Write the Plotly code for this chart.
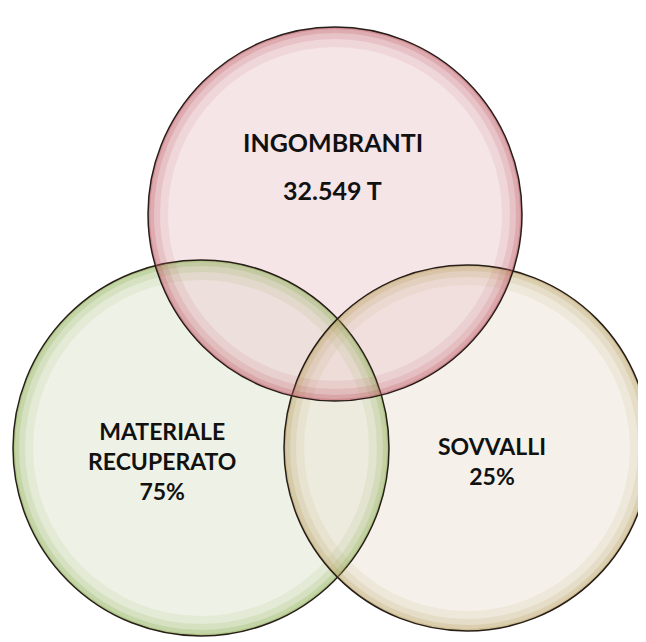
import plotly.graph_objects as go

# chart content
set_names = ["INGOMBRANTI", "MATERIALE<br>RECUPERATO", "SOVVALLI"]
set_values = ["32.549 T", "75%", "25%"]

# circle geometry in pixel units (x right, y down)
centers_x = [335, 201, 467]
centers_y = [214, 448, 448]
radii = [187, 188, 183]
fills = ["rgb(236,208,212)", "rgb(224,230,208)", "rgb(236,230,216)"]
rims = ["rgb(190,90,100)", "rgb(140,175,80)", "rgb(185,160,95)"]

W, H = 646, 642
OFF = 8  # page body margin, so data units match page pixels

fig = go.Figure()
# invisible trace so the axes exist
fig.add_trace(go.Scatter(x=[0, W], y=[0, H], mode="markers",
                         marker=dict(opacity=0), hoverinfo="skip", showlegend=False))

shapes = []
draw_order = [1, 2, 0]
for i in draw_order:
    cx, cy, r = centers_x[i], centers_y[i], radii[i]
    shapes.append(dict(type="circle", xref="x", yref="y",
                       x0=cx - r, x1=cx + r, y0=cy - r, y1=cy + r,
                       fillcolor=fills[i], opacity=0.55, line=dict(width=0)))
for i in draw_order:
    cx, cy, r = centers_x[i], centers_y[i], radii[i]
    # soft rim: stacked rings getting darker towards the edge
    for w, op in [(20, 0.10), (12, 0.15), (6, 0.22), (2, 0.35)]:
        rr = r - w / 2
        shapes.append(dict(type="circle", xref="x", yref="y",
                           x0=cx - rr, x1=cx + rr, y0=cy - rr, y1=cy + rr,
                           opacity=op, line=dict(color=rims[i], width=w)))
    shapes.append(dict(type="circle", xref="x", yref="y",
                       x0=cx - r, x1=cx + r, y0=cy - r, y1=cy + r,
                       line=dict(color="rgb(40,30,25)", width=1.5)))

annotations = []
label_font = dict(family="Lato", size=23, color="#111111")
annotations.append(dict(x=333, y=142, text="<b>" + set_names[0] + "</b>",
                        font=dict(family="Lato", size=25, color="#111111")))
annotations.append(dict(x=332, y=190, text="<b>" + set_values[0] + "</b>",
                        font=dict(family="Lato", size=25, color="#111111")))
annotations.append(dict(x=162, y=461,
                        text="<b>" + set_names[1] + "<br>" + set_values[1] + "</b>",
                        font=label_font))
annotations.append(dict(x=492, y=461,
                        text="<b>" + set_names[2] + "<br>" + set_values[2] + "</b>",
                        font=label_font))
for a in annotations:
    a.update(xref="x", yref="y", showarrow=False, align="center")

fig.update_layout(
    width=W, height=H,
    margin=dict(l=0, r=0, t=0, b=0),
    paper_bgcolor="white", plot_bgcolor="white",
    xaxis=dict(range=[OFF, W + OFF], visible=False, fixedrange=True),
    yaxis=dict(range=[H + OFF, OFF], visible=False, fixedrange=True),
    shapes=shapes,
    annotations=annotations,
    showlegend=False,
)

fig.write_html("out.html")
